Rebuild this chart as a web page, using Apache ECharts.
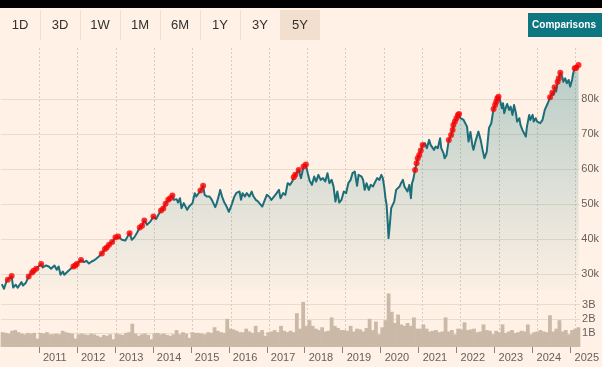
<!DOCTYPE html>
<html><head><meta charset="utf-8">
<script src="https://cdn.jsdelivr.net/npm/echarts@6/dist/echarts.min.js"></script>
<style>html,body{margin:0;padding:0;background:#fff1e5;}#c{width:602px;height:367px;}</style>
</head><body><div id="c"></div>
<script>
// ---------- DATA ----------
const rangeButtons = ['1D','3D','1W','1M','6M','1Y','3Y','5Y'];
const activeRange = '5Y';
const compareLabel = 'Comparisons';
const yearTicks = [2011,2012,2013,2014,2015,2016,2017,2018,2019,2020,2021,2022,2023,2024,2025];
const priceTicksK = [30,40,50,60,70,80];
const volumeTicksB = [1,2,3];

// time in decimal years
const priceT = [
2010.02,2010.08,2010.15,2010.18,2010.28,2010.32,2010.39,2010.44,2010.54,2010.58,2010.65,2010.73,2010.82,2010.86,2010.93,2010.97,
2011.06,2011.10,2011.19,2011.26,2011.32,2011.41,2011.47,2011.52,2011.57,2011.63,2011.67,2011.72,2011.78,2011.83,2011.91,2011.96,
2012.00,2012.11,2012.19,2012.25,2012.32,2012.39,2012.45,2012.51,2012.58,2012.66,2012.74,2012.79,2012.85,2012.90,2012.93,
2013.02,2013.09,2013.19,2013.28,2013.39,2013.45,2013.52,2013.58,2013.66,2013.72,2013.78,2013.85,2013.89,2013.94,
2014.02,2014.09,2014.15,2014.22,2014.28,2014.34,2014.41,2014.46,2014.52,2014.56,2014.63,2014.67,2014.72,2014.76,2014.82,2014.87,2014.91,2014.96,
2015.00,2015.05,2015.11,2015.15,2015.26,2015.33,2015.37,2015.43,2015.50,2015.56,2015.61,2015.65,2015.69,2015.75,2015.78,2015.83,2015.89,2015.95,
2016.01,2016.04,2016.09,2016.15,2016.21,2016.29,2016.33,2016.37,2016.43,2016.48,2016.55,2016.61,2016.66,2016.72,2016.78,2016.83,2016.89,2016.94,
2017.01,2017.07,2017.13,2017.20,2017.27,2017.33,2017.37,2017.44,2017.50,2017.56,2017.62,2017.68,2017.72,2017.76,2017.81,2017.85,2017.91,2017.98,
2018.04,2018.09,2018.14,2018.20,2018.26,2018.31,2018.37,2018.43,2018.49,2018.55,2018.61,2018.66,2018.72,2018.77,2018.82,2018.87,2018.92,2018.98,
2019.04,2019.10,2019.16,2019.22,2019.27,2019.33,2019.39,2019.43,2019.51,2019.55,2019.59,2019.64,2019.70,2019.75,2019.81,2019.85,2019.92,2019.98,
2020.03,2020.07,2020.11,2020.14,2020.17,2020.20,2020.22,2020.25,2020.29,2020.33,2020.37,2020.42,2020.46,2020.51,2020.55,2020.60,2020.64,2020.68,2020.72,2020.77,2020.81,2020.84,2020.87,2020.92,2020.96,2020.99,
2021.03,2021.07,2021.12,2021.18,2021.23,2021.29,2021.33,2021.38,2021.42,2021.46,2021.52,2021.58,2021.61,2021.67,2021.70,2021.75,2021.81,2021.87,2021.91,2021.93,2021.97,
2022.01,2022.05,2022.08,2022.12,2022.16,2022.20,2022.25,2022.29,2022.33,2022.38,2022.43,2022.46,2022.51,2022.59,2022.65,2022.70,2022.75,2022.81,2022.87,2022.93,2022.99,
2023.03,2023.06,2023.09,2023.12,2023.16,2023.21,2023.24,2023.27,2023.32,2023.35,2023.40,2023.44,2023.49,2023.53,2023.58,2023.61,2023.67,2023.70,2023.75,2023.79,2023.84,2023.87,2023.93,2023.96,
2024.02,2024.05,2024.10,2024.14,2024.19,2024.22,2024.28,2024.31,2024.34,2024.38,2024.42,2024.48,2024.54,2024.57,2024.60,2024.64,2024.68,2024.71,2024.75,2024.80,2024.83,2024.88,2024.92,2024.97,
2025.01,2025.06,2025.09,2025.13,2025.17,2025.23
];
const priceV = [
27190,25850,28130,28420,29470,26220,26990,26140,27760,26790,27480,29360,30500,30980,31550,31750,
32900,31930,32500,32210,31550,32500,31270,32210,29840,30780,29840,30330,30980,31270,32210,32500,
32900,34040,33460,33840,33070,33640,33920,34410,35060,35920,37170,37630,38400,38880,39170,
40540,40760,39820,39620,41730,39820,40590,41730,43330,43820,45330,44100,43820,45040,
46470,45730,46950,48180,48750,50090,51230,51710,52460,51230,51430,50460,51710,48860,50290,49800,48380,49320,
48860,50290,53140,52170,53880,55220,52650,52170,52170,51230,51710,49150,50290,52650,54080,52170,50460,49320,
47810,48380,50090,52080,53230,53600,51230,53140,52170,53140,52170,53600,52170,51230,50740,50290,49320,50740,
52650,52170,51230,52170,53140,54080,51710,53140,52650,55990,55510,56450,57700,58360,57870,59780,57420,60720,
61290,58840,56650,55510,57870,56450,58360,56930,57420,56450,58840,55990,56930,55020,50740,53600,50460,51230,
53600,53140,55990,56930,58840,59300,55220,58360,57870,56930,54080,55990,54080,55510,55020,55990,57420,56930,
58360,57420,54570,51710,49800,44590,40310,43620,48860,49800,50740,54080,53600,55020,55990,56930,55020,55510,53600,55510,51710,55990,56930,59780,61690,63120,
64060,65290,66910,67400,65970,68340,66910,67400,65490,66430,65970,68820,65970,64550,63120,64060,68340,69760,71190,72610,73560,
74530,75470,75750,74530,74980,74040,74530,72130,67850,70620,66910,65490,67850,70700,68340,65490,63120,64920,71760,73100,77180,
78320,79260,80230,80680,79740,77380,78800,75950,77830,78600,76890,77830,75470,78320,75950,73560,74530,72610,71190,71670,69280,72130,75470,74040,
75470,73560,74530,73560,74040,73100,74040,75470,76890,76410,78800,80510,81820,81170,83360,82110,84960,85930,87530,86390,84960,85930,84510,85450,
83540,85450,87360,88780,88950,89720
];
// dates of the highlighted (red) points
const highT = [
2010.18,2010.28,2010.73,2010.82,2010.86,2010.93,2011.06,2011.91,2011.96,2012.00,2012.11,2012.66,2012.74,2012.79,2012.85,2012.93,2013.02,2013.09,
2013.39,2013.66,2013.72,2013.78,2014.02,2014.22,2014.28,2014.34,2014.41,2014.46,2014.52,2015.26,2015.33,
2017.72,2017.76,2017.85,2017.98,2018.04,2020.92,2020.96,2020.99,2021.03,2021.07,2021.12,
2021.81,2021.87,2021.91,2021.93,2021.97,2022.01,2022.05,2022.08,2022.99,2023.03,2023.06,2023.09,2023.12,
2024.48,2024.54,2024.60,2024.68,2024.71,2024.75,2025.13,2025.17,2025.23
];
// monthly volume, billions, Jan 2010 .. Mar 2025
const volStartYear = 2010;
const volumeB = [
1.05,1.0,0.95,1.15,1.2,1.05,0.95,0.9,1.0,0.95,1.0,0.6,
1.0,0.95,1.05,0.9,0.9,0.95,0.9,1.15,1.05,1.0,0.95,0.6,
0.9,0.95,0.9,0.85,0.95,0.9,0.8,0.7,0.85,0.8,0.9,0.55,
0.95,0.9,0.85,1.0,1.05,1.65,0.95,0.8,0.9,0.95,0.85,0.55,
0.95,1.0,0.9,0.95,0.85,0.8,0.9,1.2,0.9,1.05,0.95,0.65,
1.05,1.0,1.0,0.95,0.9,1.05,1.0,1.4,1.15,1.05,1.0,2.0,
1.3,1.25,1.15,1.05,1.05,1.3,1.1,1.0,1.5,1.05,1.2,0.8,
1.05,1.1,1.2,1.05,1.5,1.15,1.05,1.15,1.05,2.4,1.3,3.2,
1.5,1.9,1.5,1.3,1.2,1.4,1.1,1.15,2.1,1.5,1.35,1.2,
1.2,1.15,1.5,1.1,1.3,1.25,1.1,1.35,2.0,1.2,1.8,0.9,
1.4,1.9,3.8,2.5,1.7,2.3,1.6,1.5,1.7,1.5,2.1,1.3,
1.3,1.6,1.3,1.1,1.15,1.2,1.05,1.1,2.1,1.1,1.2,0.9,
1.3,1.25,1.75,1.2,1.25,1.3,1.05,1.1,1.6,1.2,1.15,0.9,
1.15,1.05,1.6,1.0,1.1,1.2,1.0,1.05,1.15,1.1,1.6,0.9,
1.05,1.1,1.2,1.1,1.05,2.25,1.1,1.3,1.9,1.1,1.2,0.9,
1.2,1.3,1.4
];

// ---------- CHART ----------
const FONT = "'Liberation Sans', Arial, sans-serif";
const AXIS_TXT = '#66605c';
const X_MIN = 2010, X_MAX = 2025.25;

const priceData = priceT.map((t, i) => [t, priceV[i]]);
const highData = highT.map(t => { const i = priceT.indexOf(t); return [t, priceV[i]]; });
const volData = volumeB.map((v, i) => [volStartYear + (i + 0.5) / 12, v * 1e9]);

const chart = echarts.init(document.getElementById('c'), null, {renderer: 'canvas'});

const graphics = [{type: 'rect', shape: {x: 0, y: 0, width: 602, height: 8}, style: {fill: '#000'}}];
const BW = 40;
rangeButtons.forEach((b, i) => {
  if (b === activeRange) {
    graphics.push({type: 'rect', shape: {x: i * BW, y: 10, width: BW, height: 30}, style: {fill: '#f2dfce'}});
  }
  if (i > 0) {
    graphics.push({type: 'line', shape: {x1: i * BW + 0.5, y1: 10, x2: i * BW + 0.5, y2: 40}, style: {stroke: '#efdfd0', lineWidth: 1}});
  }
  graphics.push({type: 'text', x: i * BW + BW / 2, y: 25, style: {text: b, fill: '#33302e', font: '13px ' + FONT, align: 'center', verticalAlign: 'middle'}});
});
graphics.push({type: 'rect', shape: {x: 528, y: 13, width: 74, height: 24}, style: {fill: '#0d7680'}});
graphics.push({type: 'text', x: 564, y: 25, style: {text: compareLabel, fill: '#fff', font: 'bold 10px ' + FONT, align: 'center', verticalAlign: 'middle'}});

const option = {
  backgroundColor: '#fff1e5',
  animation: false,
  graphic: graphics,
  grid: [
    {left: 1, width: 584, top: 64, height: 226},
    {left: 1, width: 584, top: 292, height: 55},
    {left: 1, width: 584, top: 48, height: 299}
  ],
  xAxis: [
    {gridIndex: 0, type: 'value', min: X_MIN, max: X_MAX, interval: 1,
     axisLine: {show: false}, axisTick: {show: false}, axisLabel: {show: false}, splitLine: {show: false}},
    {gridIndex: 1, type: 'value', min: X_MIN, max: X_MAX, interval: 1,
     axisLine: {show: false},
     axisTick: {show: true, length: 6, lineStyle: {color: '#8c8279'}, customValues: yearTicks},
     axisLabel: {show: true, customValues: yearTicks, formatter: v => String(Math.round(v)), color: AXIS_TXT,
                 fontSize: 11, fontFamily: FONT, align: 'left', padding: [0, 0, 0, 4], margin: 5},
     splitLine: {show: false}},
    {gridIndex: 2, type: 'value', min: X_MIN, max: X_MAX, interval: 1,
     axisLine: {show: false}, axisTick: {show: false}, axisLabel: {show: false},
     splitLine: {show: true, showMinLine: false, showMaxLine: false, lineStyle: {color: '#d9cbbd', type: [2, 2], width: 1}}}
  ],
  yAxis: [
    {gridIndex: 0, type: 'value', position: 'right', min: 25500, max: 90000, splitNumber: 6,
     axisLine: {show: false}, axisTick: {show: false},
     axisLabel: {show: true, showMinLabel: false, showMaxLabel: false, margin: 2, color: AXIS_TXT, fontSize: 11, fontFamily: FONT,
                 formatter: v => priceTicksK.includes(v / 1000) ? (v / 1000) + 'k' : ''},
     splitLine: {show: true, showMinLine: false, showMaxLine: false, lineStyle: {color: '#eadbcd', width: 1}}},
    {gridIndex: 1, type: 'value', position: 'right', min: 0, max: 3.9e9, interval: 1e9,
     axisLine: {show: false}, axisTick: {show: false},
     axisLabel: {show: true, showMinLabel: false, showMaxLabel: false, margin: 2, color: AXIS_TXT, fontSize: 11, fontFamily: FONT,
                 formatter: v => volumeTicksB.includes(v / 1e9) ? (v / 1e9) + 'B' : ''},
     splitLine: {show: true, showMinLine: false, showMaxLine: false, lineStyle: {color: '#eadbcd', width: 1}}},
    {gridIndex: 2, type: 'value', min: 0, max: 1, show: false}
  ],
  series: [
    {type: 'bar', xAxisIndex: 1, yAxisIndex: 1, data: volData, barWidth: 3.8, itemStyle: {color: '#cbb9a7'}, silent: true},
    {type: 'line', xAxisIndex: 0, yAxisIndex: 0, data: priceData, showSymbol: false, symbol: 'none',
     lineStyle: {color: '#1c6e79', width: 2, join: 'round'},
     areaStyle: {origin: 'start', color: new echarts.graphic.LinearGradient(0, 0, 0, 1, [
        {offset: 0, color: 'rgba(13,118,128,0.42)'}, {offset: 1, color: 'rgba(13,118,128,0.02)'}])},
     z: 3},
    {type: 'scatter', xAxisIndex: 0, yAxisIndex: 0, data: highData, symbol: 'circle', symbolSize: 6,
     itemStyle: {color: '#ff0000'}, z: 4, clip: false}
  ]
};
chart.setOption(option);
</script>
</body></html>
